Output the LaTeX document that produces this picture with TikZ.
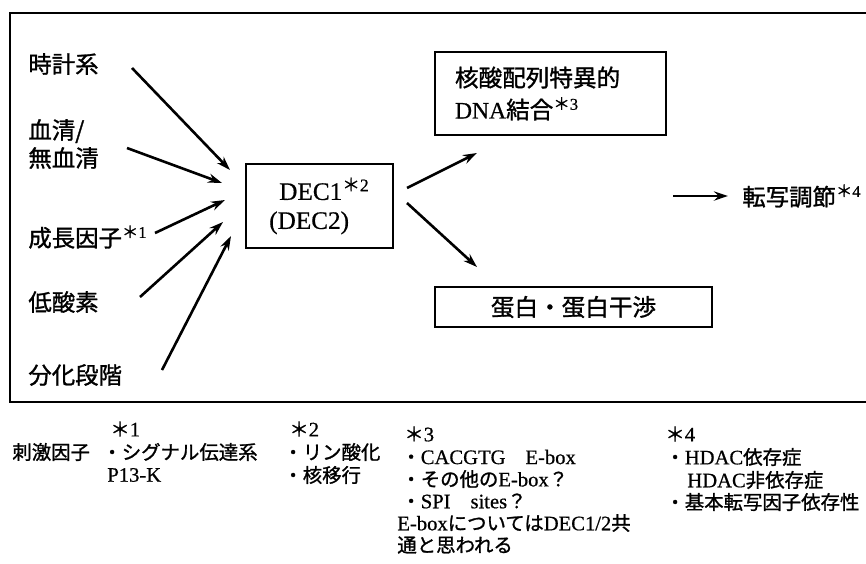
\documentclass[tikz,border=0pt]{standalone}
\usepackage{fontspec}
\setmainfont[FakeBold=0.6]{Liberation Serif}
\newfontfamily\jpf[FakeBold=1.2]{Noto Sans CJK JP}
\usetikzlibrary{arrows.meta}
\newcommand\J[1]{{\jpf\fontsize{9.7}{12}\selectfont #1}}
\newcommand\astr[1]{\textsuperscript{\jpf ＊\rmfamily #1}}
\begin{document}
\begin{tikzpicture}[x=0.5pt,y=-0.5pt,
  lab/.style={font=\jpf\fontsize{11.7}{14}\selectfont, anchor=west, inner sep=0pt, align=left},
  boxnode/.style={draw, line width=0.8pt, inner ysep=0pt},
  arr/.style={line width=1.3pt, -{Stealth[length=7pt,width=4.6pt]}},
  note/.style={font=\fontsize{10.3}{12}\selectfont, anchor=west, inner sep=0pt}]
\useasboundingbox (0,0) rectangle (866,563);
% frame
\draw[line width=1pt] (866,13) -- (10,13) -- (10,402) -- (866,402);

% stimulus labels
\node[lab] (l1) at (28,64) {時計系};
\node[lab] (l2) at (28,144) {血清/\\無血清};
\node[lab] (l3) at (28,237) {成長因子\astr{1}};
\node[lab] (l4) at (28,302) {低酸素};
\node[lab] (l5) at (28,375) {分化段階};

% DEC box
\node[boxnode, minimum width=73.5pt, minimum height=42pt, align=left,
      font=\fontsize{12.6}{14.5}\selectfont] (dec) at (319.5,206)
      {\hspace*{5pt}DEC1\astr{2}\\(DEC2)};

% target boxes
\node[boxnode, minimum height=41.5pt, inner xsep=10pt, text width=95.5pt, align=left,
      font=\jpf\fontsize{11.8}{16}\selectfont] (dna) at (550.5,93.5)
      {核酸配列特異的\\{\rmfamily DNA}結合\astr{3}};
\node[boxnode, minimum width=138.5pt, minimum height=20pt,
      font=\jpf\fontsize{11.8}{14}\selectfont] (prot) at (573.5,307) {蛋白・蛋白干渉};

\node[lab] (tr) at (742,196) {転写調節\astr{4}};

% arrow end points
\coordinate (s1) at (132,68);  \coordinate (e1) at (230,170);
\coordinate (s2) at (127,148); \coordinate (e2) at (222,183);
\coordinate (s3) at (155,233); \coordinate (e3) at (225,200);
\coordinate (s4) at (140,297); \coordinate (e4) at (223,222);
\coordinate (s5) at (162,370); \coordinate (e5) at (231,236);
\coordinate (d1) at (407,188); \coordinate (u1) at (477,153);
\coordinate (d2) at (407,203); \coordinate (u2) at (477,267);
\coordinate (t1) at (673,196); \coordinate (t2) at (728,196);

\draw[arr] (s1) -- (e1);
\draw[arr] (s2) -- (e2);
\draw[arr] (s3) -- (e3);
\draw[arr] (s4) -- (e4);
\draw[arr] (s5) -- (e5);
\draw[arr] (d1) -- (u1);
\draw[arr] (d2) -- (u2);
\draw[arr, line width=1.2pt] (t1) -- (t2);

% footnotes
\node[note] (n0) at (12,452) {\J{刺激因子}};
\node[note] (n1a) at (110,429) {\J{＊}1};
\node[note] (n1b) at (102,452) {\J{・シグナル伝達系}};
\node[note] (n1c) at (107,475) {P13-K};

\node[note] (n2a) at (289,429) {\J{＊}2};
\node[note] (n2b) at (283,452) {\J{・リン酸化}};
\node[note] (n2c) at (283,475) {\J{・核移行}};

\node[note] (n3a) at (404,434) {\J{＊}3};
\node[note] (n3b) at (401,457) {\J{・}CACGTG\hspace{10pt}E-box};
\node[note] (n3c) at (401,479) {\J{・その他の}E-box\J{？}};
\node[note] (n3d) at (401,501) {\J{・}SPI\hspace{10pt}sites\J{？}};
\node[note] (n3e) at (397,523) {E-box\J{については}DEC1/2\J{共}};
\node[note] (n3f) at (397,545) {\J{通と思われる}};

\node[note] (n4a) at (665,434) {\J{＊}4};
\node[note] (n4b) at (665,457) {\J{・}HDAC\J{依存症}};
\node[note] (n4c) at (687,480) {HDAC\J{非依存症}};
\node[note] (n4d) at (665,502) {\J{・基本転写因子依存性}};
\end{tikzpicture}
\end{document}
